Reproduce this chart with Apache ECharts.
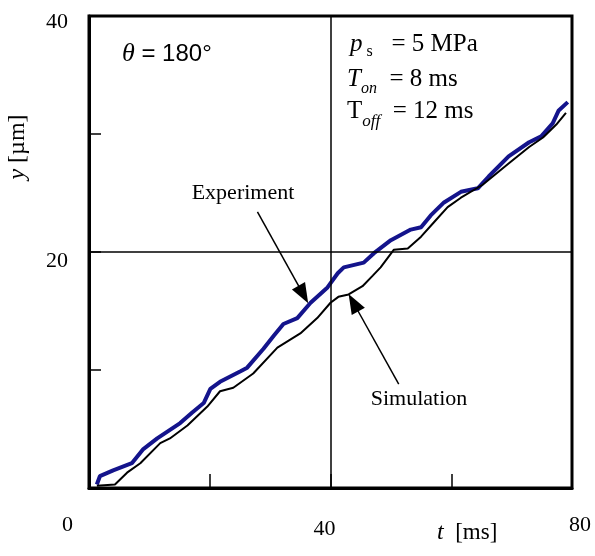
<!DOCTYPE html>
<html>
<head>
<meta charset="utf-8">
<script src="https://cdn.jsdelivr.net/npm/echarts@6/dist/echarts.min.js"></script>
<style>
    html, body { margin: 0; padding: 0; background: #fff; }
    #chart { width: 595px; height: 556px; }
</style>
</head>
<body>
<div id="chart"></div>
<script>
    // 实验曲线 (t [ms], y [µm])
    var expT = [1.3, 1.8, 4, 7.1, 9, 11.3, 15.1, 17.1, 19, 20.1, 21.7, 25.1, 26.2, 28.9, 30.6, 32.2, 34.5, 36.7, 39.5, 41.2, 42.2, 45.5, 47.2, 50, 53.3, 55, 56.6, 58.8, 61.6, 64.4, 66.2, 69.5, 72.9, 74.9, 76.8, 77.8, 79.3];
    var expY = [0.3, 1.0, 1.5, 2.1, 3.3, 4.2, 5.5, 6.4, 7.2, 8.4, 9.0, 9.9, 10.2, 11.8, 12.9, 13.9, 14.4, 15.7, 17.0, 18.2, 18.7, 19.1, 19.9, 21.0, 21.9, 22.1, 23.1, 24.2, 25.1, 25.4, 26.4, 28.1, 29.3, 29.8, 30.9, 32.0, 32.7];

    // 仿真曲线
    var simT = [1.3, 4.3, 6.3, 8.5, 11.8, 13.4, 16.3, 19.6, 21.7, 23.9, 27.2, 31.2, 33.4, 35, 37.8, 40, 41.3, 43, 45.3, 47, 48.3, 50.5, 52.8, 55, 57.1, 59.4, 61.6, 65.2, 69.5, 72.9, 75.2, 77.4, 79];
    var simY = [0.2, 0.3, 1.3, 2.1, 3.8, 4.2, 5.3, 6.9, 8.2, 8.5, 9.7, 11.9, 12.6, 13.1, 14.4, 15.7, 16.2, 16.4, 17.1, 18, 18.7, 20.2, 20.3, 21.3, 22.5, 23.8, 24.6, 25.7, 27.5, 28.9, 29.7, 30.8, 31.8];

    // 刻度
    var xTickLabels = [0, 40, 80];
    var yTickLabels = [20, 40];
    var gridX = [40];
    var gridY = [20];

    // 箭头 (起点, 终点)
    var expArrow = [[27.9, 23.4], [35.5, 16.4]];
    var simArrow = [[51.3, 8.8], [43.8, 15.7]];

    function zip(a, b) {
        var out = [];
        for (var i = 0; i < a.length; i++) {
            out.push([a[i], b[i]]);
        }
        return out;
    }

    var serif = '"Liberation Serif", "DejaVu Serif", serif';
    var sans = '"Liberation Sans", Arial, sans-serif';

    var myChart = echarts.init(document.getElementById('chart'));

    var guideLines = [];
    gridX.forEach(function(v) { guideLines.push({ xAxis: v }); });
    gridY.forEach(function(v) { guideLines.push({ yAxis: v }); });

    var option = {
        animation: false,
        grid: {
            left: 89,
            right: 23,
            top: 16,
            bottom: 68,
            show: true,
            borderColor: '#000',
            borderWidth: 3
        },
        xAxis: {
            type: 'value',
            min: 0,
            max: 80,
            interval: 20,
            axisLine: { lineStyle: { color: '#000', width: 3 } },
            axisTick: { inside: true, length: 14, lineStyle: { color: '#000', width: 1.5 } },
            splitLine: { show: false },
            axisLabel: {
                margin: 26,
                color: '#000',
                fontFamily: serif,
                fontSize: 22,
                formatter: function(v) {
                    if (xTickLabels.indexOf(v) < 0) return '';
                    if (v === 0) return '{a|0}';
                    if (v === 40) return '{b|40}';
                    return '{c|80}';
                },
                rich: {
                    a: { fontFamily: serif, fontSize: 22, padding: [0, 43, 0, 0] },
                    b: { fontFamily: serif, fontSize: 22, padding: [4, 12, 0, 0] },
                    c: { fontFamily: serif, fontSize: 22, padding: [0, 0, 6, 16] }
                }
            }
        },
        yAxis: {
            type: 'value',
            min: 0,
            max: 40,
            interval: 10,
            axisLine: { lineStyle: { color: '#000', width: 3 } },
            axisTick: { inside: true, length: 12, lineStyle: { color: '#000', width: 1.5 } },
            splitLine: { show: false },
            axisLabel: {
                margin: 21,
                color: '#000',
                fontFamily: serif,
                fontSize: 22,
                formatter: function(v) {
                    if (yTickLabels.indexOf(v) < 0) return '';
                    return v === 40 ? '{t|40}' : '{m|20}';
                },
                rich: {
                    t: { fontFamily: serif, fontSize: 22, padding: [12, 0, 0, 0] },
                    m: { fontFamily: serif, fontSize: 22, padding: [18, 0, 0, 0] }
                }
            }
        },
        series: [{
            name: 'Simulation',
            type: 'line',
            data: zip(simT, simY),
            showSymbol: false,
            lineStyle: { color: '#000', width: 2 },
            z: 3,
            markLine: {
                silent: true,
                symbol: ['none', 'none'],
                label: { show: false },
                lineStyle: { color: '#000', width: 1.5, type: 'solid' },
                data: guideLines
            }
        }, {
            name: 'Experiment',
            type: 'line',
            data: zip(expT, expY),
            showSymbol: false,
            lineStyle: { color: '#14148c', width: 4 },
            z: 2,
            markLine: {
                silent: true,
                symbol: ['none', 'triangle'],
                symbolSize: [15, 20],
                label: { show: false },
                lineStyle: { color: '#000', width: 1.5, type: 'solid' },
                itemStyle: { color: '#000' },
                data: [
                    [{ coord: expArrow[0] }, { coord: expArrow[1] }],
                    [{ coord: simArrow[0] }, { coord: simArrow[1] }]
                ]
            }
        }],
        graphic: [{
            type: 'text',
            left: 122,
            top: 41,
            style: {
                text: '{th|θ}{eq| = 180°}',
                rich: {
                    th: { fontFamily: serif, fontStyle: 'italic', fontSize: 26, fill: '#000' },
                    eq: { fontFamily: sans, fontSize: 24, fill: '#000' }
                }
            }
        }, {
            type: 'text',
            left: 350,
            top: 32,
            style: {
                text: '{i|p}{s| s}{n|   = 5 MPa}',
                rich: {
                    i: { fontFamily: serif, fontStyle: 'italic', fontSize: 25, fill: '#000' },
                    s: { fontFamily: serif, fontSize: 16, padding: [14, 0, 0, 0], fill: '#000' },
                    n: { fontFamily: serif, fontSize: 25, fill: '#000' }
                }
            }
        }, {
            type: 'text',
            left: 347,
            top: 67,
            style: {
                text: '{i|T}{s|on}{n|  = 8 ms}',
                rich: {
                    i: { fontFamily: serif, fontStyle: 'italic', fontSize: 25, fill: '#000' },
                    s: { fontFamily: serif, fontStyle: 'italic', fontSize: 16, padding: [18, 0, 0, 0], fill: '#000' },
                    n: { fontFamily: serif, fontSize: 25, fill: '#000' }
                }
            }
        }, {
            type: 'text',
            left: 347,
            top: 99,
            style: {
                text: '{i|T}{s|off}{n|  = 12 ms}',
                rich: {
                    i: { fontFamily: serif, fontSize: 25, fill: '#000' },
                    s: { fontFamily: serif, fontStyle: 'italic', fontSize: 17, padding: [20, 0, 0, 0], fill: '#000' },
                    n: { fontFamily: serif, fontSize: 25, fill: '#000' }
                }
            }
        }, {
            type: 'text',
            x: 243,
            y: 193,
            style: {
                text: 'Experiment',
                fontFamily: serif,
                fontSize: 22,
                fill: '#000',
                align: 'center',
                verticalAlign: 'middle'
            }
        }, {
            type: 'text',
            x: 419,
            y: 399,
            style: {
                text: 'Simulation',
                fontFamily: serif,
                fontSize: 22,
                fill: '#000',
                align: 'center',
                verticalAlign: 'middle'
            }
        }, {
            type: 'text',
            x: 437,
            y: 533,
            style: {
                text: '{i|t}{n|  [ms]}',
                verticalAlign: 'middle',
                rich: {
                    i: { fontFamily: serif, fontStyle: 'italic', fontSize: 24, fill: '#000' },
                    n: { fontFamily: serif, fontSize: 23, fill: '#000' }
                }
            }
        }, {
            type: 'text',
            x: 18,
            y: 147,
            rotation: Math.PI / 2,
            style: {
                text: '{i|y}{n| [µm]}',
                align: 'center',
                verticalAlign: 'middle',
                rich: {
                    i: { fontFamily: serif, fontStyle: 'italic', fontSize: 24, fill: '#000' },
                    n: { fontFamily: serif, fontSize: 24, fill: '#000' }
                }
            }
        }]
    };

    myChart.setOption(option);
</script>
</body>
</html>
